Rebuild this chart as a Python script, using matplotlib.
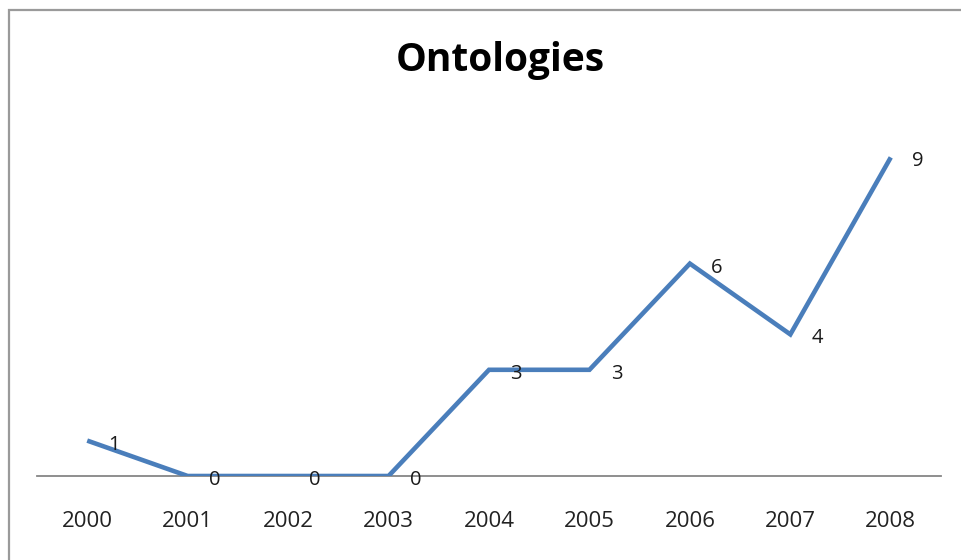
import matplotlib
matplotlib.use("Agg")
import matplotlib.pyplot as plt
from matplotlib.patches import Rectangle

years = ['2000', '2001', '2002', '2003', '2004', '2005', '2006', '2007', '2008']
counts = [1, 0, 0, 0, 3, 3, 6, 4, 9]

plt.rcParams['font.family'] = ['Open Sans', 'DejaVu Sans']

fig = plt.figure(figsize=(9.61, 5.6), dpi=100)
fig.patch.set_facecolor('white')

# chart border (Excel-style frame, runs off the right/bottom edges)
fig.patches.append(Rectangle((9 / 961, -0.05), 1.0, (560 - 10) / 560 + 0.05,
                             transform=fig.transFigure, fill=False,
                             edgecolor='#9a9a9a', linewidth=1.6))

ax = fig.add_axes([37 / 961, 84 / 560, 904 / 961, 354 / 560])
x = list(range(len(years)))
ax.plot(x, counts, color='#4A7EBB', linewidth=3.3, solid_capstyle='butt',
        solid_joinstyle='miter')

for xi, v in zip(x, counts):
    ax.annotate(str(v), (xi, v), xytext=(27, -4), textcoords='offset pixels',
                ha='center', va='center', fontsize=14.5, color='#1a1a1a')

ax.set_xlim(-0.5, len(years) - 0.5)
ax.set_ylim(0, 10)
ax.set_xticks(x)
ax.set_xticklabels(years, fontsize=16, color='#222222')
ax.tick_params(axis='x', length=0, pad=25)
ax.set_yticks([])
for s in ['top', 'right', 'left']:
    ax.spines[s].set_visible(False)
ax.spines['bottom'].set_color('#868686')
ax.spines['bottom'].set_linewidth(1.3)
ax.spines['bottom'].set_zorder(0)

fig.text(500 / 961, 1 - 60 / 560, 'Ontologies', ha='center', va='center',
         fontsize=28, fontweight='bold', color='black')

fig.savefig('out.png', dpi=100)
